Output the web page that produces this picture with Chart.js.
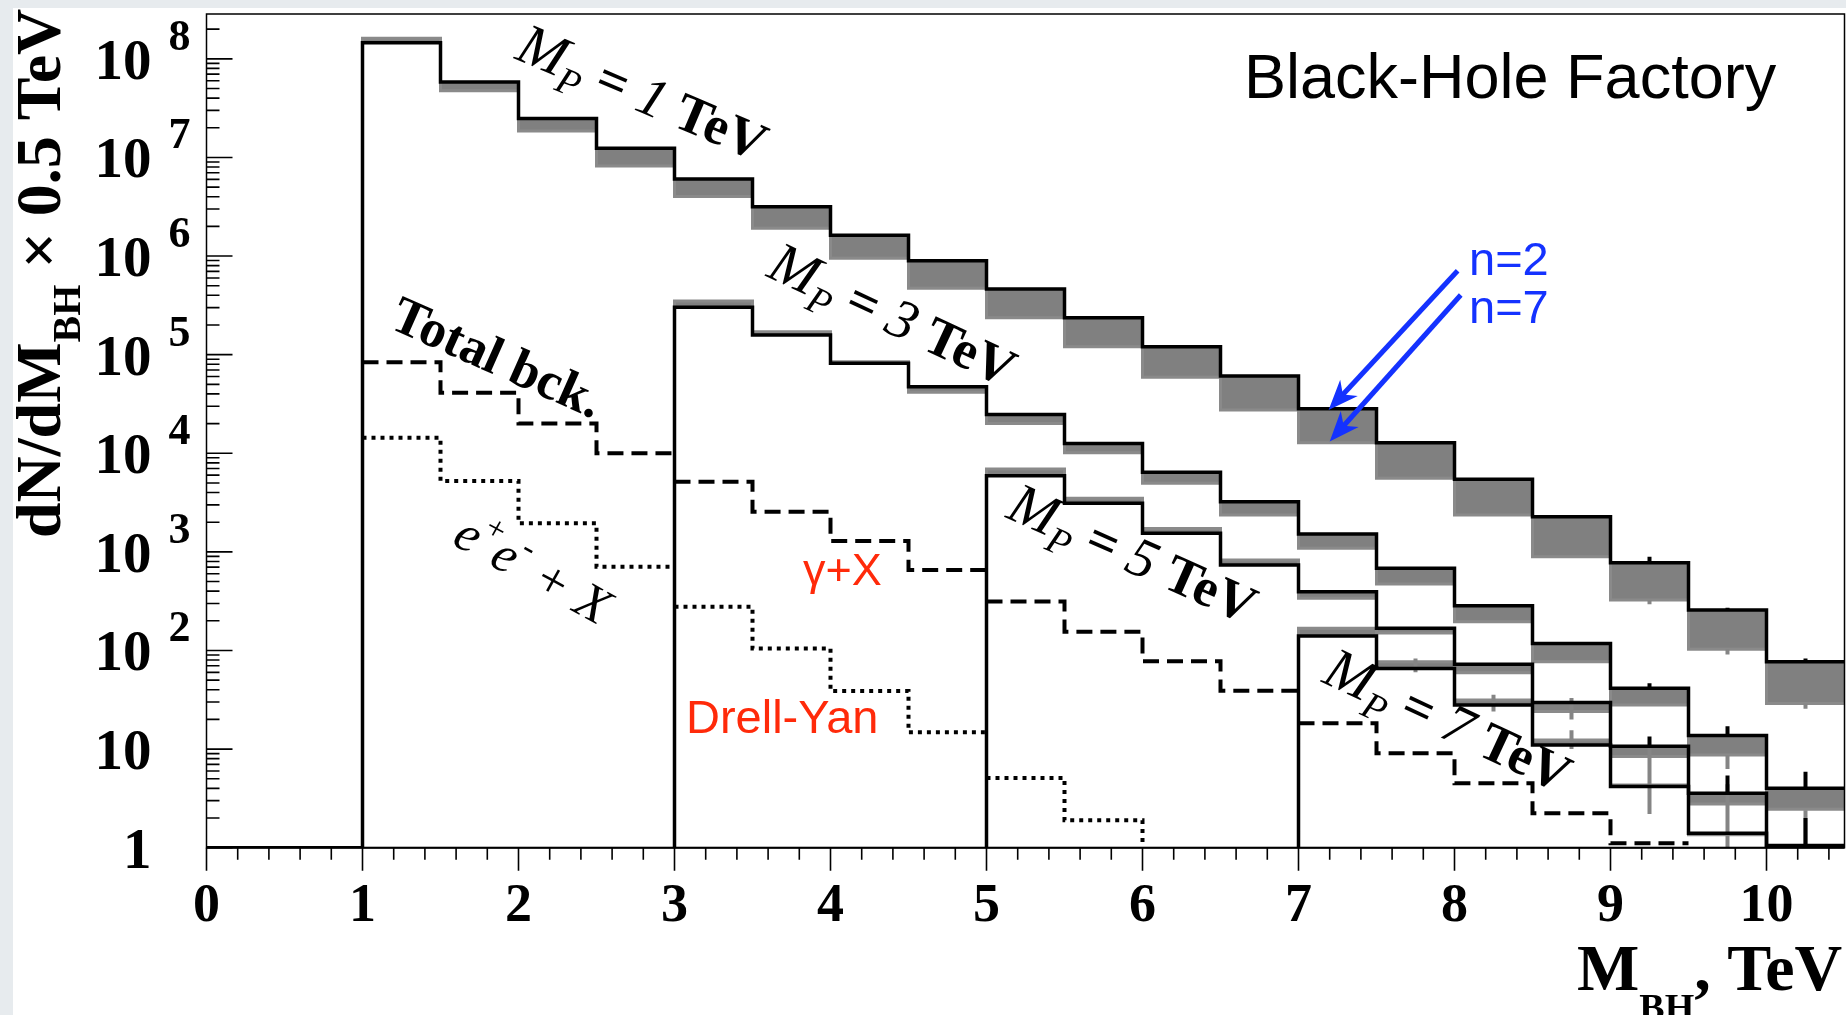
<!DOCTYPE html>
<html>
<head>
<meta charset="utf-8">
<script src="https://cdn.jsdelivr.net/npm/chart.js@4.4.1/dist/chart.umd.min.js"></script>
<style>
  html, body { margin: 0; padding: 0; background: #fff; }
  #wrap { position: relative; width: 1846px; height: 1015px; }
</style>
</head>
<body>
<div id="wrap"><canvas id="myChart"></canvas></div>
<script>
// histogram bins are 0.5 TeV wide, values = events per bin
const binWidth = 0.5;
const xTickLabels = ['0', '1', '2', '3', '4', '5', '6', '7', '8', '9', '10'];
const yExponents = [0, 1, 2, 3, 4, 5, 6, 7, 8];

// M_P = 1 TeV, bins from 1 to 10.5 TeV  (n2 = black line, n7 = grey line)
const mp1Start = 1;
const mp1N2 = [1.46e8, 5.83e7, 2.49e7, 1.24e7, 6.05e6, 3.17e6, 1.63e6, 8.97e5, 4.63e5, 2.37e5,
               1.2e5, 6.08e4, 2.83e4, 1.28e4, 5450, 2275, 778, 258, 77];
const mp1N7 = [1.62e8, 4.76e7, 1.86e7, 8.2e6, 4.01e6, 1.91e6, 9.48e5, 4.71e5, 2.37e5, 1.2e5,
               5.9e4, 2.75e4, 1.28e4, 5570, 2370, 893, 325, 103, 29];

// M_P = 3 TeV
const mp3Start = 3;
const mp3N2 = [3.03e5, 1.58e5, 8.18e4, 4.74e4, 2.48e4, 1.26e4, 6410, 3230, 1520, 681, 285, 118, 41.4, 13.7, 4.0];
const mp3N7 = [3.51e5, 1.71e5, 8.49e4, 4.17e4, 2.01e4, 1.01e4, 4970, 2370, 1090, 472, 196, 77, 28, 8.7, 2.45];

// M_P = 5 TeV
const mp5Start = 5;
const mp5N2 = [5930, 3110, 1545, 736, 395, 168, 72.4, 29.6, 10.7, 3.56, 1.05];
const mp5N7 = [6930, 3490, 1730, 828, 338, 150, 59.6, 24, 8.4, 2.77, 0.8];

// M_P = 7 TeV
const mp7Start = 7;
const mp7N2 = [140, 65.5, 28, 11, 4.17, 1.4, 0.5];
const mp7N7 = [168, 77, 31.5, 12.4, 4.33, 1.35, 0.5];

// backgrounds: dashed (total / gamma+X) and dotted (e+e- / Drell-Yan)
const dashedA = [8.38e4, 4.12e4, 2.01e4, 1.0e4];      // 1 - 3 TeV
const dashedB = [5150, 2560, 1290, 655];              // 3 - 5
const dashedC = [313, 155, 78, 39];                   // 5 - 7
const dashedD = [18.3, 9.1, 4.5, 2.23, 1.11];         // 7 - 9.5
const dottedA = [1.44e4, 5240, 1950, 708];            // 1 - 3
const dottedB = [278, 105, 38.8, 14.8];               // 3 - 5
const dottedC = [5.1, 1.9, 0.5];                      // 5 - 6.5

// error bars [x, low, high]
const greyErrBars = [
  [7.75, 60, 83], [8.25, 24, 35.5], [8.75, 10, 15.5], [9.25, 2.2, 10.5], [9.75, 0.5, 4.4],
  [10.25, 1.05, 2.4], [8.75, 20, 33], [9.75, 6.3, 8.7], [9.25, 295, 325], [9.75, 91, 103], [10.25, 25.7, 29]
];
const blackErrBars = [
  [9.25, 778, 890], [9.75, 258, 272], [10.25, 77, 83],
  [9.25, 41.4, 46.5], [9.75, 13.7, 17], [10.25, 4.0, 5.9],
  [9.25, 10.7, 13.4], [9.75, 3.56, 5.4], [10.25, 1.05, 2.0]
];

const yMin = 1;
const yMax = 2.85e8;

// step histogram points
function histPoints(start, values, riseFrom) {
  const pts = [];
  if (riseFrom !== undefined) {
    pts.push({x: riseFrom, y: yMin});
    pts.push({x: start, y: yMin});
  }
  values.forEach((v, i) => pts.push({x: start + i * binWidth, y: v}));
  pts.push({x: start + values.length * binWidth, y: values[values.length - 1]});
  return pts;
}

function errPoints(list) {
  const pts = [];
  list.forEach(e => {
    pts.push({x: e[0], y: e[1]});
    pts.push({x: e[0], y: e[2]});
    pts.push({x: e[0], y: null});
  });
  return pts;
}

function blackLine(data) {
  return {data, borderColor: '#000', borderWidth: 3.5, stepped: true, pointRadius: 0, fill: false};
}
function greyBand(data, target) {
  return {data, borderColor: '#8a8a8a', borderWidth: 3, stepped: true, pointRadius: 0,
          backgroundColor: '#808080', fill: {target: target}};
}
function bkgLine(data, dash) {
  return {data, borderColor: '#000', borderWidth: 4, borderDash: dash, stepped: true, pointRadius: 0, fill: false};
}

const dashes = [16, 8];
const dots = [4, 5];

const datasets = [
  blackLine(histPoints(mp1Start, mp1N2, 0)),
  blackLine(histPoints(mp3Start, mp3N2, mp3Start)),
  blackLine(histPoints(mp5Start, mp5N2, mp5Start)),
  blackLine(histPoints(mp7Start, mp7N2, mp7Start)),
  {data: errPoints(blackErrBars), borderColor: '#000', borderWidth: 4, pointRadius: 0, fill: false, spanGaps: false},
  {data: errPoints(greyErrBars), borderColor: '#858585', borderWidth: 4, pointRadius: 0, fill: false, spanGaps: false},
  greyBand(histPoints(mp1Start, mp1N7, 0), 0),
  greyBand(histPoints(mp3Start, mp3N7, mp3Start), 1),
  greyBand(histPoints(mp5Start, mp5N7, mp5Start), 2),
  greyBand(histPoints(mp7Start, mp7N7, mp7Start), 3),
  bkgLine(histPoints(1, dashedA), dashes),
  bkgLine(histPoints(3, dashedB), dashes),
  bkgLine(histPoints(5, dashedC), dashes),
  bkgLine(histPoints(7, dashedD), dashes),
  bkgLine(histPoints(1, dottedA), dots),
  bkgLine(histPoints(3, dottedB), dots),
  bkgLine(histPoints(5, dottedC), dots)
];

// draw a run of text pieces along a baseline
function drawRich(ctx, parts, x, y, angle, align) {
  ctx.save();
  ctx.translate(x, y);
  ctx.rotate(angle);
  ctx.textAlign = 'left';
  ctx.textBaseline = 'alphabetic';
  let total = 0;
  parts.forEach(p => { ctx.font = p.font; total += ctx.measureText(p.t).width; });
  let cx = align === 'center' ? -total / 2 : 0;
  parts.forEach(p => {
    ctx.font = p.font;
    ctx.fillStyle = p.color || '#000';
    ctx.fillText(p.t, cx, p.dy || 0);
    cx += ctx.measureText(p.t).width;
  });
  ctx.restore();
}

const serif = '"Liberation Serif", "Times New Roman", serif';
const sans = '"Liberation Sans", Arial, sans-serif';
const deg = Math.PI / 180;

function mpLabel(num) {
  return [
    {t: 'M', font: 'italic 58px ' + serif},
    {t: 'P', font: 'italic 38px ' + serif, dy: 13},
    {t: ' = ', font: 'bold 54px ' + serif},
    {t: num, font: 'italic 56px ' + serif},
    {t: ' TeV', font: 'bold 54px ' + serif}
  ];
}

// [x, y, angle, parts] in data coordinates
const textLabels = [
  [2.75, 4.6e7, 23, mpLabel('1')],
  [4.35, 2.6e5, 25, mpLabel('3')],
  [5.89, 980, 24, mpLabel('5')],
  [7.91, 20, 25, mpLabel('7')],
  [1.82, 9.9e4, 24, [{t: 'Total bck.', font: 'bold 53px ' + serif}]],
  [2.04, 708, 29, [
    {t: 'e', font: 'italic 52px ' + serif},
    {t: '+', font: '34px ' + serif, dy: -24},
    {t: 'e', font: 'italic 52px ' + serif},
    {t: '-', font: '34px ' + serif, dy: -24},
    {t: ' + X', font: 'italic 52px ' + serif}
  ]]
];

const background = {
  id: 'background',
  beforeDraw(chart) {
    const ctx = chart.ctx;
    ctx.save();
    ctx.fillStyle = '#e7ebee';
    ctx.fillRect(0, 0, chart.width, chart.height);
    ctx.fillStyle = '#ffffff';
    ctx.fillRect(13, 8, chart.width - 13, chart.height - 8);
    ctx.restore();
  }
};

const decorations = {
  id: 'decorations',
  afterDraw(chart) {
    const ctx = chart.ctx;
    const a = chart.chartArea;
    const xs = chart.scales.x;
    const ys = chart.scales.y;
    ctx.save();

    // frame
    ctx.strokeStyle = '#000';
    ctx.lineWidth = 1.5;
    ctx.strokeRect(a.left, a.top, a.right - a.left, a.bottom - a.top);
    ctx.lineWidth = 2;
    ctx.beginPath();
    ctx.moveTo(a.left, a.bottom);
    ctx.lineTo(a.right, a.bottom);
    ctx.stroke();

    // x ticks (outside, every 0.2)
    ctx.lineWidth = 1.6;
    ctx.beginPath();
    for (let i = 0; i <= 52; i++) {
      const px = xs.getPixelForValue(i * 0.2);
      const len = i % 5 === 0 ? 23 : 12;
      ctx.moveTo(px, a.bottom);
      ctx.lineTo(px, a.bottom + len);
    }
    ctx.stroke();

    // y ticks (inside)
    ctx.beginPath();
    yExponents.forEach(k => {
      for (let m = 1; m <= 9; m++) {
        const v = m * Math.pow(10, k);
        if (v > yMax) break;
        const py = ys.getPixelForValue(v);
        const len = m === 1 ? 26 : 13;
        ctx.moveTo(a.left, py);
        ctx.lineTo(a.left + len, py);
      }
    });
    ctx.stroke();

    // x tick labels
    ctx.fillStyle = '#000';
    ctx.font = 'bold 54px ' + serif;
    ctx.textAlign = 'center';
    ctx.textBaseline = 'alphabetic';
    xTickLabels.forEach((lab, i) => {
      ctx.fillText(lab, xs.getPixelForValue(i), 921);
    });

    // y tick labels
    yExponents.forEach(k => {
      const py = ys.getPixelForValue(Math.pow(10, k));
      ctx.textAlign = 'right';
      ctx.font = 'bold 57px ' + serif;
      ctx.fillText(k === 0 ? '1' : '10', a.left - 55, py + 20);
      if (k >= 2) {
        ctx.textAlign = 'left';
        ctx.font = 'bold 44px ' + serif;
        ctx.fillText(String(k), a.left - 38, py - 9);
      }
    });

    // axis titles
    drawRich(ctx, [
      {t: 'M', font: 'bold 66px ' + serif},
      {t: 'BH', font: 'bold 38px ' + serif, dy: 30},
      {t: ', TeV', font: 'bold 66px ' + serif}
    ], 1577, 990, 0, 'left');
    drawRich(ctx, [
      {t: 'dN/dM', font: 'bold 64px ' + serif},
      {t: 'BH', font: 'bold 40px ' + serif, dy: 20},
      {t: ' \u00d7 0.5 TeV', font: 'bold 64px ' + serif}
    ], 60, 538, -Math.PI / 2, 'left');

    // rotated curve labels
    textLabels.forEach(l => {
      drawRich(ctx, l[3], xs.getPixelForValue(l[0]), ys.getPixelForValue(l[1]) + 18, l[2] * deg, 'center');
    });

    // title and coloured labels
    drawRich(ctx, [{t: 'Black-Hole Factory', font: '63px ' + sans}], 1244, 98, 0, 'left');
    drawRich(ctx, [{t: '\u03b3+X', font: '45px ' + sans, color: '#ff2a0a'}], 803, 585, 0, 'left');
    drawRich(ctx, [{t: 'Drell-Yan', font: '47px ' + sans, color: '#ff2a0a'}], 686, 733, 0, 'left');
    drawRich(ctx, [{t: 'n=2', font: '47px ' + sans, color: '#1432ff'}], 1469, 275, 0, 'left');
    drawRich(ctx, [{t: 'n=7', font: '47px ' + sans, color: '#1432ff'}], 1469, 323, 0, 'left');

    // arrows n=2 / n=7
    const arrows = [[8.02, 7.1e5, 7.193, 2.75e4], [8.04, 4.03e5, 7.2, 1.32e4]];
    ctx.strokeStyle = '#1432ff';
    ctx.fillStyle = '#1432ff';
    ctx.lineWidth = 5;
    arrows.forEach(ar => {
      const x0 = xs.getPixelForValue(ar[0]), y0 = ys.getPixelForValue(ar[1]);
      const x1 = xs.getPixelForValue(ar[2]), y1 = ys.getPixelForValue(ar[3]);
      const ang = Math.atan2(y1 - y0, x1 - x0);
      const hl = 30, hw = 12;
      const bx = x1 - hl * Math.cos(ang), by = y1 - hl * Math.sin(ang);
      ctx.beginPath();
      ctx.moveTo(x0, y0);
      ctx.lineTo(x1 - hl * 0.6 * Math.cos(ang), y1 - hl * 0.6 * Math.sin(ang));
      ctx.stroke();
      ctx.beginPath();
      ctx.moveTo(x1, y1);
      ctx.lineTo(bx + hw * Math.sin(ang), by - hw * Math.cos(ang));
      ctx.lineTo(x1 - hl * 0.7 * Math.cos(ang), y1 - hl * 0.7 * Math.sin(ang));
      ctx.lineTo(bx - hw * Math.sin(ang), by + hw * Math.cos(ang));
      ctx.closePath();
      ctx.fill();
    });

    ctx.restore();
  }
};

const ctx = document.getElementById('myChart');
new Chart(ctx, {
  type: 'line',
  data: { datasets: datasets },
  options: {
    responsive: true,
    maintainAspectRatio: false,
    animation: false,
    layout: { padding: { left: 206.5, top: 14, right: 1.5, bottom: 167.3 } },
    plugins: { legend: { display: false }, tooltip: { enabled: false } },
    scales: {
      x: { type: 'linear', min: 0, max: 10.5, display: false },
      y: { type: 'logarithmic', min: yMin, max: yMax, display: false }
    }
  },
  plugins: [background, decorations]
});
</script>
</body>
</html>
